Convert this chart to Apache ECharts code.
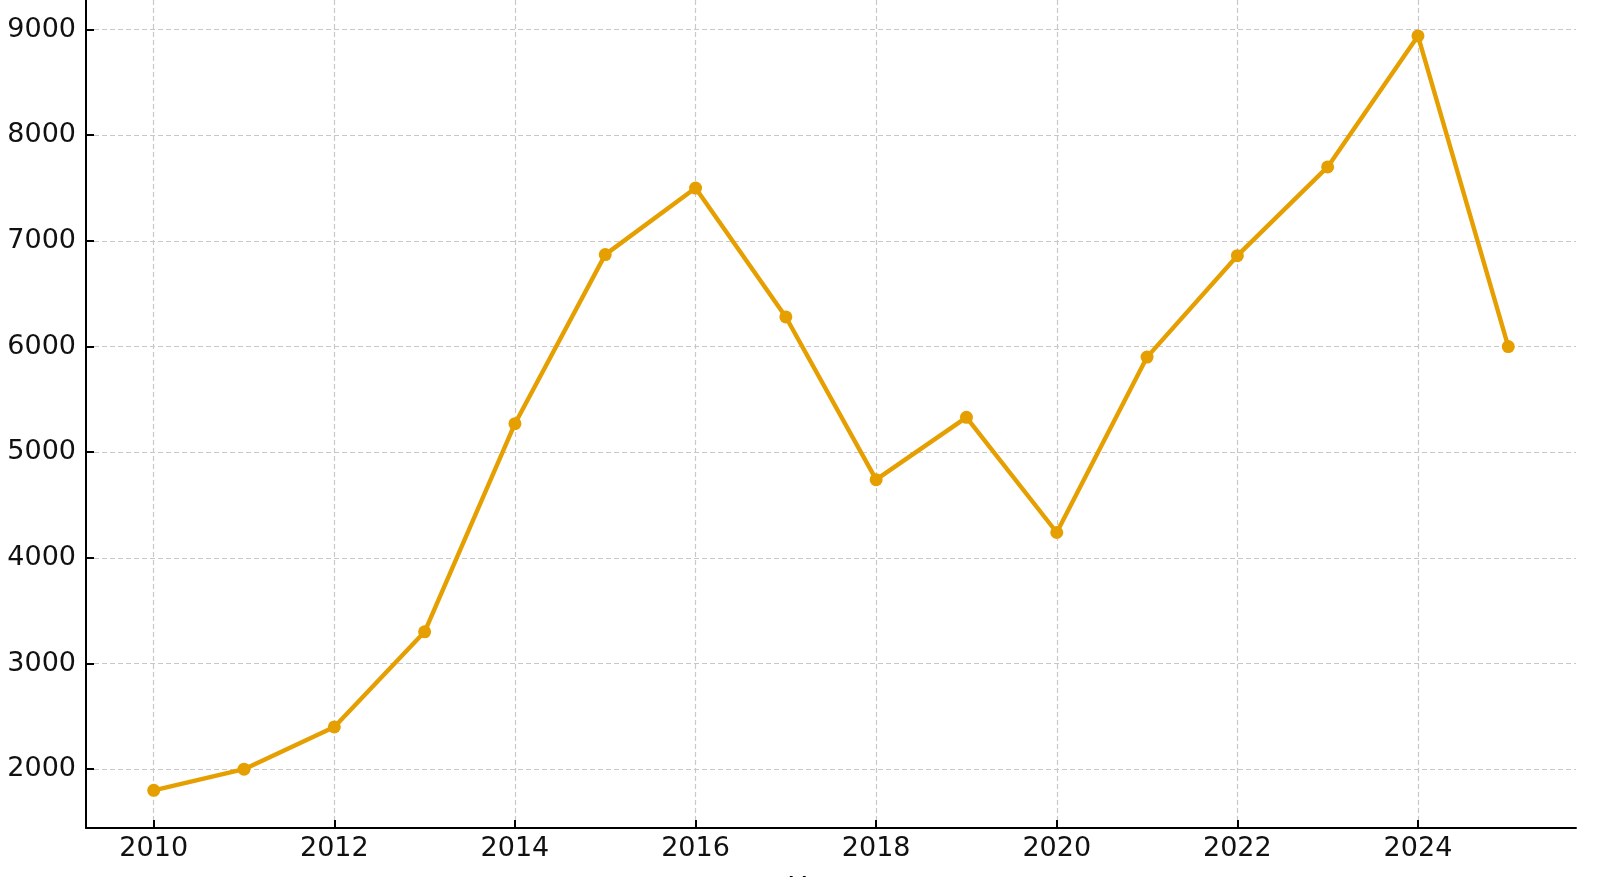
<!DOCTYPE html>
<html>
<head>
<meta charset="utf-8">
<script src="https://cdn.jsdelivr.net/npm/echarts@6/dist/echarts.min.js"></script>
<style>
html,body{margin:0;padding:0;background:#fff;}
#chart{width:1600px;height:877px;}
</style>
</head>
<body>
<div id="chart"></div>
<script>
var years = [2010,2011,2012,2013,2014,2015,2016,2017,2018,2019,2020,2021,2022,2023,2024,2025];
var values = [1800,2000,2400,3300,5270,6870,7500,6280,4740,5330,4240,5900,6860,7700,8940,6000];
var xTicks = [2010,2012,2014,2016,2018,2020,2022,2024];
var yTicks = [2000,3000,4000,5000,6000,7000,8000,9000];
var xName = 'Year';

var data = years.map(function(y,i){return [y, values[i]];});
var chart = echarts.init(document.getElementById('chart'), null, {renderer:'canvas'});
var font = 'DejaVu Sans';
chart.setOption({
  animation:false,
  backgroundColor:'#ffffff',
  grid:{left:86, right:24, top:0, bottom:49, containLabel:false, outerBoundsMode:'none'},
  xAxis:{
    type:'value', min:2009.25, max:2025.75,
    name:xName, nameLocation:'middle', nameGap:47,
    nameTextStyle:{fontFamily:font, fontSize:27, color:'#000', padding:[0,26,0,0]},
    axisLine:{show:true, onZero:false, lineStyle:{color:'#000', width:2}},
    axisTick:{show:true, inside:true, length:8, lineStyle:{color:'#000', width:2}, customValues:xTicks},
    axisLabel:{fontFamily:font, fontSize:27, color:'#111', margin:7, customValues:xTicks,
      formatter:function(v){return String(v);}},
    splitLine:{show:true, lineStyle:{color:'#c8c8c8', width:1.2, type:[5,3]}}
  },
  yAxis:{
    type:'value', min:1443, max:9280,
    axisLine:{show:true, onZero:false, lineStyle:{color:'#000', width:2}},
    axisTick:{show:true, inside:true, length:8, lineStyle:{color:'#000', width:2}, customValues:yTicks},
    axisLabel:{fontFamily:font, fontSize:27, color:'#111', margin:10, customValues:yTicks,
      formatter:function(v){return String(v);}},
    splitLine:{show:true, lineStyle:{color:'#c8c8c8', width:1.2, type:[5,3]}}
  },
  series:[{
    type:'line', data:data,
    lineStyle:{color:'#E69F00', width:4.4},
    itemStyle:{color:'#E69F00'},
    symbol:'circle', symbolSize:13, showSymbol:true
  }]
});
</script>
</body>
</html>
